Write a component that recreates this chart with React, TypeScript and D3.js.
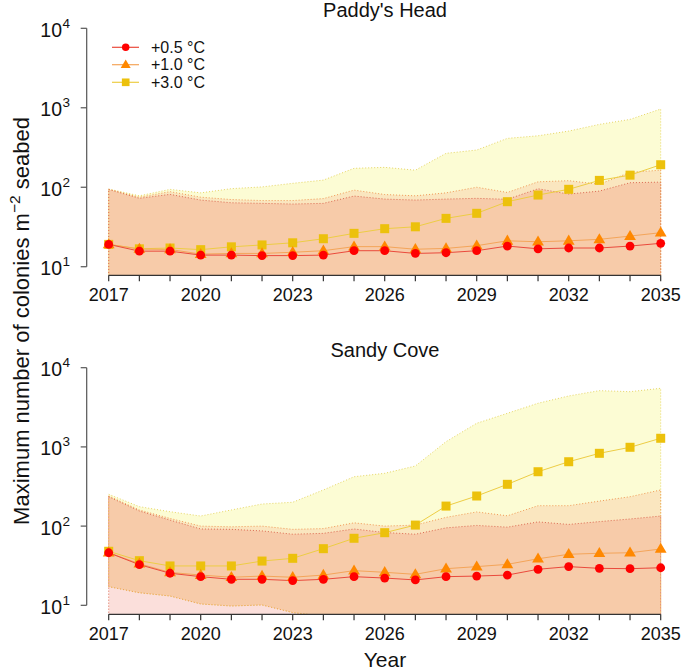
import React from "react";
import * as d3 from "d3";

const years = [2017, 2018, 2019, 2020, 2021, 2022, 2023, 2024, 2025, 2026, 2027, 2028, 2029, 2030, 2031, 2032, 2033, 2034, 2035];
const xTickLabels = [2017, 2020, 2023, 2026, 2029, 2032, 2035];
const yTicks = [10, 100, 1000, 10000];
const scenarioLabels = ["+0.5 °C", "+1.0 °C", "+3.0 °C"];

// Paddy's Head
const paddy05 = [19.1, 15.7, 15.7, 14.0, 14.0, 13.8, 13.8, 14.0, 15.9, 15.9, 14.7, 15.0, 15.9, 18.2, 16.8, 17.2, 17.2, 18.2, 19.7];
const paddy10 = [19.1, 16.7, 16.5, 14.4, 14.7, 14.7, 15.2, 15.9, 17.9, 17.9, 16.6, 17.0, 18.4, 21.2, 20.6, 21.2, 22.1, 24.3, 26.8];
const paddy30 = [19.1, 16.8, 17.2, 16.4, 17.8, 18.8, 20.0, 22.5, 26.3, 30.1, 31.8, 40.6, 47.0, 65.8, 79.8, 94.2, 122, 142, 192];
const paddy05Hi = [94, 72.5, 81.4, 69, 63.8, 62.7, 61.5, 62.7, 77.5, 71, 69, 71, 72.5, 70.5, 95.7, 82, 89.5, 114, 116];
const paddy10Hi = [94, 75, 88, 75, 70, 68, 68, 72, 92, 81, 78, 85, 100, 86, 117, 121, 109, 154, 164];
const paddy30Hi = [95, 78, 94, 85, 96, 101, 112, 123, 173, 178, 164, 267, 294, 412, 444, 509, 618, 714, 964];
const paddy05Lo = [4.0, 3.5, 3.4, 3.0, 3.0, 2.9, 2.9, 3.0, 3.3, 3.3, 3.1, 3.2, 3.3, 3.7, 3.5, 3.6, 3.6, 3.7, 4.0];
const paddy10Lo = [4.0, 3.6, 3.5, 3.1, 3.2, 3.2, 3.3, 3.4, 3.7, 3.7, 3.5, 3.6, 3.8, 4.2, 4.1, 4.2, 4.4, 4.7, 5.0];
const paddy30Lo = [4.0, 3.6, 3.6, 3.5, 3.7, 3.9, 4.1, 4.5, 5.0, 5.5, 5.7, 6.4, 6.8, 7.0, 7.2, 7.3, 7.4, 7.5, 7.6];

// Sandy Cove
const sandy05 = [46.1, 32.6, 25.4, 23.0, 21.3, 21.3, 20.5, 21.3, 23.0, 22.1, 20.9, 23.0, 23.4, 24.1, 28.5, 30.8, 29.3, 29.0, 29.8];
const sandy10 = [46.1, 33.5, 26.0, 24.1, 22.6, 23.4, 22.6, 24.1, 27.4, 26.1, 24.6, 29.0, 30.8, 32.9, 38.7, 44.1, 45.4, 46.1, 51.4];
const sandy30 = [48.1, 36.6, 31.4, 31.4, 31.4, 36.2, 39.2, 51.9, 70.2, 82.6, 103, 179, 240, 337, 486, 650, 830, 989, 1285];
const sandy05Hi = [235, 155, 119, 92, 91, 87, 79, 81, 92, 83, 79, 95, 102, 97, 113, 105, 114, 123, 134];
const sandy10Hi = [240, 160, 125, 100, 98, 100, 91, 93, 110, 100, 103, 129, 151, 135, 181, 181, 207, 235, 286];
const sandy30Hi = [252, 176, 152, 134, 160, 190, 200, 286, 420, 464, 574, 1164, 1986, 2656, 3556, 4395, 5130, 4980, 5495];
const sandy05Lo = [6.5, 5.5, 5.0, 4.5, 4.2, 4.2, 4.0, 4.2, 4.4, 4.3, 4.1, 4.4, 4.5, 4.6, 5.0, 5.2, 5.1, 5.1, 5.2];
const sandy10Lo = [17.2, 14.4, 13.1, 10.4, 9.8, 10.1, 8.1, 7.3, 7.0, 6.8, 6.5, 6.8, 7.0, 7.1, 7.3, 7.4, 7.4, 7.5, 7.6];
const sandy30Lo = [17.2, 14.4, 13.1, 10.4, 9.8, 10.1, 8.1, 7.3, 7.0, 6.8, 6.5, 6.8, 7.0, 7.1, 7.3, 7.4, 7.4, 7.5, 7.6];

const W = 685;
const H = 672;
const xLeft = 108.7;
const xRight = 660.7;
const yAxisX = 86.7;

const styles = [
  { fill: "rgb(235,110,90)", fillOpacity: 0.22, edge: "#dc6a52", line: "#ea4a3c", marker: "#ff0000", shape: "circle" },
  { fill: "rgb(247,147,112)", fillOpacity: 0.2, edge: "#f09a55", line: "#f4a55a", marker: "#ff8800", shape: "triangle" },
  { fill: "rgb(240,240,40)", fillOpacity: 0.2, edge: "#e6d565", line: "#edcd45", marker: "#ecc10c", shape: "square" },
];

const panels = [
  {
    id: "p1",
    title: "Paddy's Head",
    titleY: 17,
    yRange: [275.3, 28.3],
    yMin: 7.8,
    mean: [paddy05, paddy10, paddy30],
    hi: [paddy05Hi, paddy10Hi, paddy30Hi],
    lo: [paddy05Lo, paddy10Lo, paddy30Lo],
    legend: true,
  },
  {
    id: "p2",
    title: "Sandy Cove",
    titleY: 357,
    yRange: [614.3, 367.7],
    yMin: 7.7,
    mean: [sandy05, sandy10, sandy30],
    hi: [sandy05Hi, sandy10Hi, sandy30Hi],
    lo: [sandy05Lo, sandy10Lo, sandy30Lo],
    legend: false,
  },
];

const FONT = "'Liberation Sans', Arial, Helvetica, sans-serif";

function Marker({ shape, x, y, color, size = 1 }: { shape: string; x: number; y: number; color: string; size?: number }) {
  if (shape === "circle") return <circle cx={x} cy={y} r={4.4 * size} fill={color} />;
  if (shape === "triangle") {
    const s = 6.2 * size;
    return <path d={`M${x},${y - s}L${x + s * 0.95},${y + s * 0.62}L${x - s * 0.95},${y + s * 0.62}Z`} fill={color} />;
  }
  const h = 4.5 * size;
  return <rect x={x - h} y={y - h} width={2 * h} height={2 * h} fill={color} />;
}

function Panel({ p }: { p: any }) {
  const x = d3.scaleLinear().domain([2017, 2035]).range([xLeft, xRight]);
  const y = d3.scaleLog().domain([p.yMin, 10000]).range(p.yRange);
  const axisY = p.yRange[0];
  const clipId = `clip-${p.id}`;
  const area = (k: number) =>
    d3
      .area<number>()
      .x((_, i) => x(years[i]))
      .y0((_, i) => y(p.lo[k][i]))
      .y1((_, i) => y(p.hi[k][i]))(years.map((_, i) => i)) as string;
  const line = (k: number) =>
    d3
      .line<number>()
      .x((_, i) => x(years[i]))
      .y((v) => y(v))(p.mean[k]) as string;
  const order = [2, 1, 0];
  return (
    <g>
      <defs>
        <clipPath id={clipId}>
          <rect x={0} y={0} width={W} height={axisY} />
        </clipPath>
      </defs>
      <g clipPath={`url(#${clipId})`}>
        {order.map((k) => (
          <path key={`a${k}`} d={area(k)} fill={styles[k].fill} fillOpacity={styles[k].fillOpacity} stroke="none" />
        ))}
        {order.map((k) => (
          <path key={`e${k}`} d={area(k)} fill="none" stroke={styles[k].edge} strokeWidth={1} strokeDasharray="1,2" />
        ))}
      </g>
      {order.map((k) => (
        <path key={`l${k}`} d={line(k)} fill="none" stroke={styles[k].line} strokeWidth={1} />
      ))}
      {order.map((k) =>
        p.mean[k].map((v: number, i: number) => (
          <Marker key={`m${k}-${i}`} shape={styles[k].shape} x={x(years[i])} y={y(v)} color={styles[k].marker} />
        ))
      )}
      {/* y axis */}
      <line x1={yAxisX} x2={yAxisX} y1={y(10)} y2={y(10000)} stroke="#555" strokeWidth={1.2} />
      {yTicks.map((t) => (
        <g key={`yt${t}`}>
          <line x1={yAxisX - 6} x2={yAxisX} y1={y(t)} y2={y(t)} stroke="#555" strokeWidth={1.2} />
          <text x={62} y={y(t) + 8.5} textAnchor="end" fontSize={19.5} fontFamily={FONT} fill="#111">
            10
          </text>
          <text x={62.5} y={y(t) - 0.5} textAnchor="start" fontSize={13.5} fontFamily={FONT} fill="#111">
            {Math.round(Math.log10(t))}
          </text>
        </g>
      ))}
      {/* x axis */}
      <line x1={xLeft} x2={xRight} y1={axisY} y2={axisY} stroke="#333" strokeWidth={1.2} />
      {years.map((yr) => (
        <line key={`xt${yr}`} x1={x(yr)} x2={x(yr)} y1={axisY} y2={axisY + 6} stroke="#333" strokeWidth={1.2} />
      ))}
      {xTickLabels.map((yr) => (
        <text key={`xl${yr}`} x={x(yr)} y={axisY + 25.5} textAnchor="middle" fontSize={18} fontFamily={FONT} fill="#111">
          {yr}
        </text>
      ))}
      <text x={385} y={p.titleY} textAnchor="middle" fontSize={20} fontFamily={FONT} fill="#111">
        {p.title}
      </text>
      {p.legend &&
        scenarioLabels.map((lab, k) => {
          const ly = [47.3, 64.7, 82.3][k];
          return (
            <g key={`lg${k}`}>
              <line x1={112} x2={139} y1={ly} y2={ly} stroke={styles[k].line} strokeWidth={1.2} />
              <Marker shape={styles[k].shape} x={125.7} y={ly} color={styles[k].marker} size={0.85} />
              <text x={151} y={ly + 5.5} fontSize={16} fontFamily={FONT} fill="#111">
                {lab}
              </text>
            </g>
          );
        })}
    </g>
  );
}

export default function App() {
  return (
    <svg
      width={W}
      height={H}
      viewBox={`0 0 ${W} ${H}`}
      style={{ position: "absolute", left: 0, top: 0, background: "#fff" }}
    >
      <rect x={0} y={0} width={W} height={H} fill="#fff" />
      {panels.map((p) => (
        <Panel key={p.id} p={p} />
      ))}
      <text
        transform="translate(29,321) rotate(-90)"
        textAnchor="middle"
        fontSize={22}
        fontFamily={FONT}
        fill="#111"
      >
        Maximum number of colonies m
        <tspan dy={-9} fontSize={15.5}>
          −2
        </tspan>
        <tspan dy={9}> seabed</tspan>
      </text>
      <text x={385} y={667} textAnchor="middle" fontSize={21} fontFamily={FONT} fill="#111">
        Year
      </text>
    </svg>
  );
}
